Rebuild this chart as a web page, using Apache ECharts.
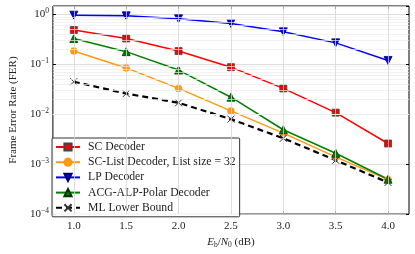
<!DOCTYPE html>
<html><head><meta charset="utf-8">
<script src="https://cdn.jsdelivr.net/npm/echarts@6/dist/echarts.min.js"></script>
<style>html,body{margin:0;padding:0;background:#fff}#c{width:415px;height:254px}</style>
</head><body><div id="c"></div>
<script>
const snr = [1.0, 1.5, 2.0, 2.5, 3.0, 3.5, 4.0];
const scDecoder = [0.49, 0.33, 0.185, 0.088, 0.033, 0.0108, 0.0026];
const scList = [0.185, 0.085, 0.033, 0.0117, 0.0042, 0.0014, 0.00049];
const lpDecoder = [0.97, 0.94, 0.82, 0.66, 0.45, 0.27, 0.12];
const acgDecoder = [0.33, 0.18, 0.077, 0.022, 0.0049, 0.00166, 0.0005];
const mlBound = [0.045, 0.026, 0.017, 0.008, 0.0033, 0.0012, 0.00043];
const xTicks = [1.0, 1.5, 2.0, 2.5, 3.0, 3.5, 4.0];
const names = ['SC Decoder', 'SC-List Decoder, List size = 32', 'LP Decoder', 'ACG-ALP-Polar Decoder', 'ML Lower Bound'];

const FONT = '"Liberation Serif", "DejaVu Serif", serif';
const minorVals = [];
for (let e = -4; e <= -1; e++) for (let k = 2; k <= 9; k++) minorVals.push(k * Math.pow(10, e));

function pairs(ys) { return snr.map((x, i) => [x, ys[i]]); }
const edge = '#444';
const chart = echarts.init(document.getElementById('c'), null, {renderer: 'canvas'});
chart.setOption({
  animation: false,
  backgroundColor: '#fff',
  grid: {left: 47, right: 6, top: 6, bottom: 33, show: true, borderColor: '#000', borderWidth: 1},
  xAxis: [{
    type: 'value', min: 0.8, max: 4.2, interval: 0.5,
    axisLine: {show: false},
    axisTick: {inside: true, length: 3, lineStyle: {color: '#000'}, customValues: xTicks},
    axisLabel: {fontFamily: FONT, fontSize: 11, color: '#222', margin: 7, customValues: xTicks,
      formatter: v => v.toFixed(1)},
    splitLine: {show: false},
    name: '{i|E}{s|b}/{i|N}{s|0} (dB)', nameLocation: 'middle', nameGap: 16,
    nameTextStyle: {fontFamily: FONT, fontSize: 11, color: '#222',
      rich: {i: {fontStyle: 'italic', fontFamily: FONT, fontSize: 11}, s: {fontFamily: FONT, fontSize: 7.5, padding: [5, 0, 0, 0]}}}
  }, {
    type: 'value', position: 'top', min: 0.8, max: 4.2, interval: 0.5,
    axisLine: {show: false}, axisLabel: {show: false},
    axisTick: {inside: true, length: 3, lineStyle: {color: '#000'}, customValues: xTicks},
    splitLine: {show: false}
  }],
  yAxis: [{
    type: 'log', min: 1e-4, max: 1.48, logBase: 10,
    axisLine: {show: false},
    axisTick: {inside: true, length: 3, lineStyle: {color: '#000'}},
    axisLabel: {fontFamily: FONT, fontSize: 11, color: '#222', margin: 4,
      formatter: v => { const e = Math.round(Math.log10(v)); return '{b|10}{s|' + (e < 0 ? '\u2212' + (-e) : e) + '}'; },
      rich: {b: {fontFamily: FONT, fontSize: 11}, s: {fontFamily: FONT, fontSize: 7.5, padding: [0, 0, 7, 0]}}},
    splitLine: {show: true, lineStyle: {color: '#d6d6d6', width: 0.8}},
    name: 'Frame Error Rate (FER)', nameLocation: 'middle', nameGap: 33,
    nameTextStyle: {fontFamily: FONT, fontSize: 11, color: '#222'}
  }, {
    type: 'log', min: 1e-4, max: 1.48, position: 'right',
    axisLine: {show: false}, axisLabel: {show: false},
    axisTick: {inside: true, length: 3, lineStyle: {color: '#000'}},
    splitLine: {show: false}
  }],
  legend: {
    orient: 'vertical', left: 52, top: 138, data: names,
    backgroundColor: 'rgba(255,255,255,0.9)', borderColor: '#333', borderWidth: 1, borderRadius: 1,
    padding: [3, 4, 3, 3], itemWidth: 24, itemHeight: 9, itemGap: 3.2,
    textStyle: {fontFamily: FONT, fontSize: 11.7, color: '#222', padding: [0, 0, 0, 3]}
  },
  series: [
    {type: 'line', name: '_grid', data: [], silent: true, z: 1,
      markLine: {silent: true, symbol: 'none', label: {show: false}, animation: false,
        lineStyle: {color: '#ececec', width: 0.7, type: 'solid'},
        data: minorVals.map(v => ({yAxis: v})).concat(xTicks.map(v => ({xAxis: v, lineStyle: {color: '#d6d6d6', width: 0.8}})))}},
    {type: 'line', name: names[0], data: pairs(scDecoder), color: '#ff0000',
      lineStyle: {width: 1.5}, symbol: 'rect', symbolSize: 7,
      itemStyle: {color: '#ff0000', borderColor: edge, borderWidth: 0.8}},
    {type: 'line', name: names[1], data: pairs(scList), color: '#ff9a10',
      lineStyle: {width: 1.5}, symbol: 'circle', symbolSize: 7,
      itemStyle: {color: '#ff9a10', borderColor: '#ff9a10', borderWidth: 0.5}},
    {type: 'line', name: names[2], data: pairs(lpDecoder), color: '#0000ff',
      lineStyle: {width: 1.5}, symbol: 'triangle', symbolRotate: 180, symbolSize: 8,
      itemStyle: {color: '#0000ff', borderColor: '#000066', borderWidth: 0.8}},
    {type: 'line', name: names[3], data: pairs(acgDecoder), color: '#008000',
      lineStyle: {width: 1.5}, symbol: 'triangle', symbolSize: 8,
      itemStyle: {color: '#008000', borderColor: '#003300', borderWidth: 0.8}},
    {type: 'line', name: names[4], data: pairs(mlBound), color: '#000',
      lineStyle: {width: 2.2, type: [6, 4], color: '#000'}, symbol: 'path://M0,0L10,10M10,0L0,10', symbolSize: 7,
      itemStyle: {color: '#000', borderColor: '#333', borderWidth: 1}}
  ]
});
</script></body></html>
